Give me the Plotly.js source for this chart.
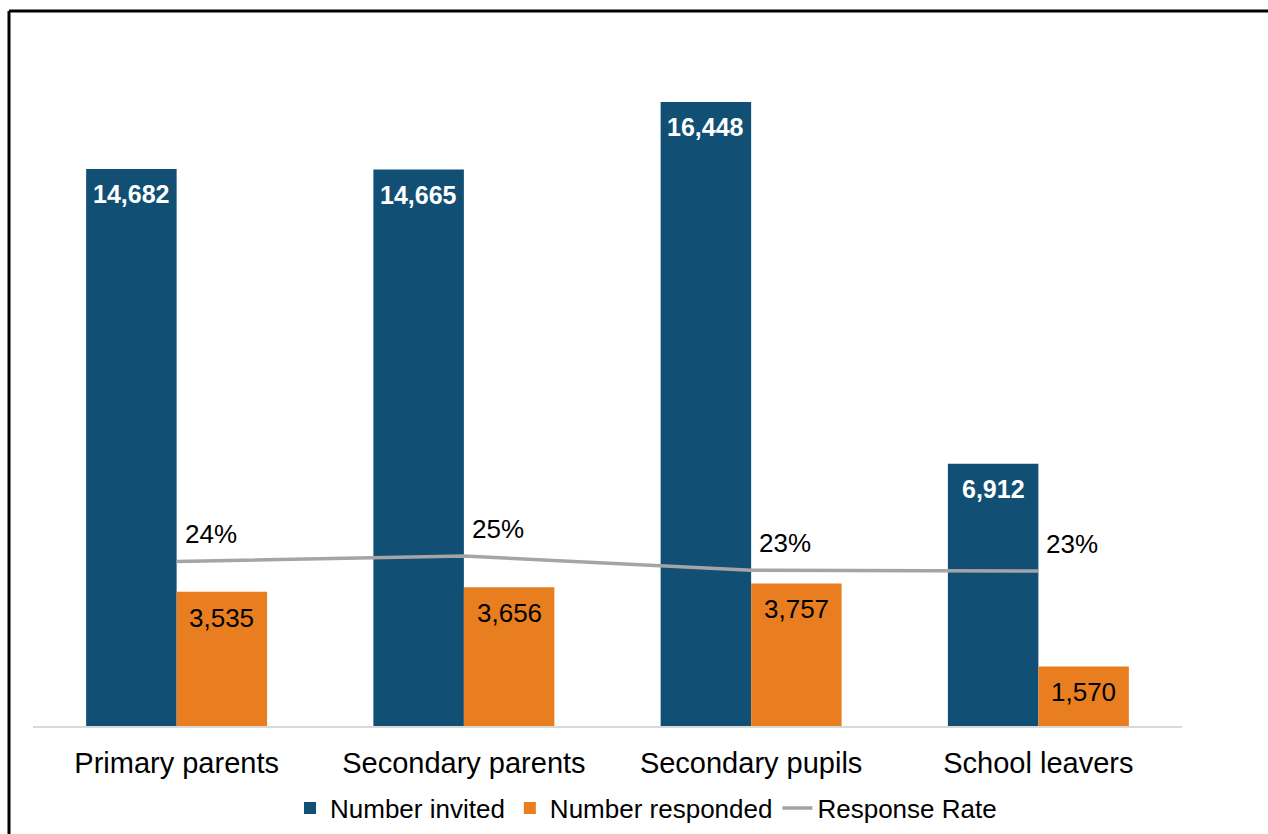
<!DOCTYPE html>
<html>
<head>
<meta charset="utf-8">
<script src="https://cdn.plot.ly/plotly-3.0.1.min.js"></script>
<style>
html,body{margin:0;padding:0;background:#fff;}
#chart{width:1268px;height:834px;}
</style>
</head>
<body>
<div id="chart"></div>
<script>
const categories = ["Primary parents", "Secondary parents", "Secondary pupils", "School leavers"];
const numberInvited = [14682, 14665, 16448, 6912];
const numberResponded = [3535, 3656, 3757, 1570];
const responseRate = [0.241, 0.249, 0.228, 0.227];
const responseRateLabels = ["24%", "25%", "23%", "23%"];

const BLUE = "#114F74";
const ORANGE = "#E87E1F";
const GREY = "#A5A5A5";
const FONT = "Liberation Sans, Arial, sans-serif";

const W = 1268, H = 834;
const L = 33, R = 1182, T = 43, B = 726;
const pw = R - L, ph = B - T;

function fmt(v){ return v.toLocaleString("en-US"); }

const traces = [
  {type:"bar", name:"Number invited", x:categories, y:numberInvited,
   marker:{color:BLUE}, hoverinfo:"x+y"},
  {type:"bar", name:"Number responded", x:categories, y:numberResponded,
   marker:{color:ORANGE}, hoverinfo:"x+y"},
  {type:"scatter", mode:"lines", name:"Response Rate", x:categories, y:responseRate,
   yaxis:"y2", line:{color:GREY, width:3.5}, hoverinfo:"x+y"}
];

const annotations = [];
categories.forEach((c,i)=>{
  annotations.push({x:c, y:numberInvited[i], xref:"x", yref:"y", text:"<b>"+fmt(numberInvited[i])+"</b>",
    showarrow:false, xanchor:"center", yanchor:"top", xshift:-45.3, yshift:-9,
    font:{family:FONT, size:25, color:"#ffffff"}});
  annotations.push({x:c, y:numberResponded[i], xref:"x", yref:"y", text:fmt(numberResponded[i]),
    showarrow:false, xanchor:"center", yanchor:"top", xshift:45.3, yshift:-9,
    font:{family:FONT, size:26, color:"#000000"}});
  annotations.push({x:c, y:responseRate[i], xref:"x", yref:"y2", text:responseRateLabels[i],
    showarrow:false, xanchor:"left", yanchor:"middle", xshift:6, yshift:27,
    font:{family:FONT, size:26, color:"#000000"}});
});

const bx = (9 - L)/pw, by = (B - 11)/ph;
const shapes = [
  {type:"line", xref:"paper", yref:"paper", x0:bx, x1:bx, y0:-0.3, y1:by, line:{color:"#000", width:3}},
  {type:"line", xref:"paper", yref:"paper", x0:bx, x1:1.2, y0:by, y1:by, line:{color:"#000", width:3}}
];

const layout = {
  width:W, height:H,
  margin:{l:L, r:W-R, t:T, b:H-B, pad:0, autoexpand:false},
  paper_bgcolor:"#ffffff", plot_bgcolor:"#ffffff",
  font:{family:FONT, color:"#000"},
  barmode:"group", bargap:0.37, bargroupgap:0,
  showlegend:true,
  legend:{orientation:"h", x:(646-L)/pw, xanchor:"center", yref:"container", y:(H-808)/H, yanchor:"middle",
    font:{family:FONT, size:26, color:"#000"}, traceorder:"normal", itemwidth:30,
    tracegroupgap:0},
  xaxis:{type:"category", showline:true, linecolor:"#D9D9D9", linewidth:1.5,
    ticks:"", showgrid:false, zeroline:false, automargin:false, ticklabelstandoff:11,
    tickfont:{family:FONT, size:29, color:"#000"}, fixedrange:true},
  yaxis:{range:[0,18000], visible:false, showgrid:false, zeroline:false, fixedrange:true},
  yaxis2:{range:[0,1], overlaying:"y", side:"right", visible:false, showgrid:false, zeroline:false, fixedrange:true},
  annotations:annotations,
  shapes:shapes
};

Plotly.newPlot("chart", traces, layout, {displayModeBar:false, staticPlot:true});
</script>
</body>
</html>
